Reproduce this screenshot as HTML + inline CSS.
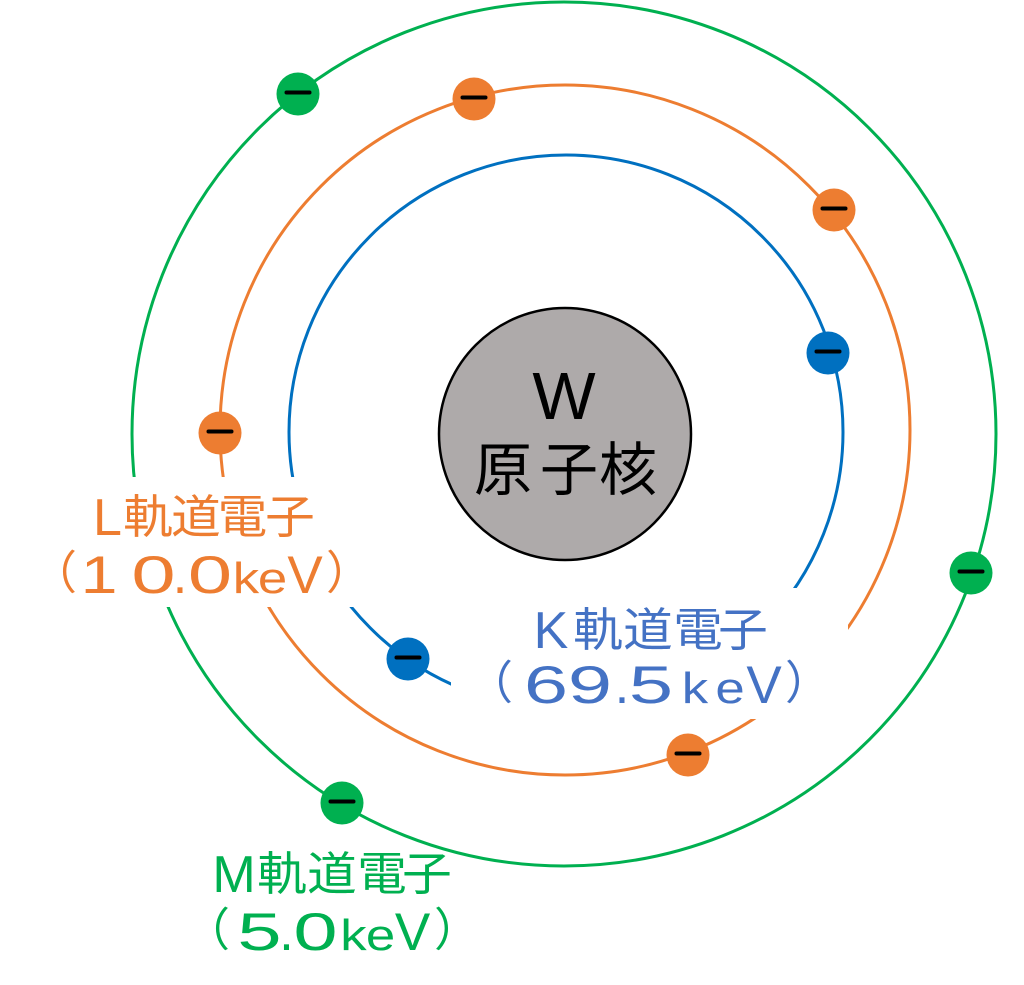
<!DOCTYPE html>
<html>
<head>
<meta charset="utf-8">
<style>
  html, body { margin:0; padding:0; background:#fff; }
  svg { display:block; }
  .lat { font-family:"Liberation Sans", sans-serif; }
  .cjk { font-family:"Liberation Sans","Noto Sans CJK JP", sans-serif; }
</style>
</head>
<body>
<svg width="1024" height="985" viewBox="0 0 1024 985" xmlns="http://www.w3.org/2000/svg">
  <rect width="1024" height="985" fill="#fff"/>

  <!-- orbits -->
  <circle cx="564" cy="434" r="432" fill="none" stroke="#00B050" stroke-width="3"/>
  <circle cx="565" cy="430" r="345" fill="none" stroke="#ED7D31" stroke-width="3"/>
  <circle cx="566" cy="432" r="277" fill="none" stroke="#0070C0" stroke-width="3"/>

  <!-- label backgrounds cutting the orbits -->
  <rect x="30" y="477" width="342" height="130" fill="#fff"/>
  <rect x="451" y="588" width="397" height="131" fill="#fff"/>

  <!-- nucleus -->
  <circle cx="565" cy="434" r="126" fill="#AEAAAA" stroke="#000" stroke-width="2.5"/>
  <text class="lat" x="564" y="419" font-size="67" text-anchor="middle" fill="#000">W</text>
  <g class="cjk" font-size="58" fill="#000" text-anchor="middle">
    <text x="503" y="490">原</text>
    <text x="569" y="490">子</text>
    <text x="628" y="490">核</text>
  </g>

  <!-- electrons -->
  <g>
    <circle cx="298" cy="94" r="21.5" fill="#00B050"/>
    <circle cx="971" cy="573" r="21.5" fill="#00B050"/>
    <circle cx="342" cy="803" r="21.5" fill="#00B050"/>
    <circle cx="474" cy="99" r="21.5" fill="#ED7D31"/>
    <circle cx="834" cy="210" r="21.5" fill="#ED7D31"/>
    <circle cx="220" cy="433" r="21.5" fill="#ED7D31"/>
    <circle cx="688" cy="755" r="21.5" fill="#ED7D31"/>
    <circle cx="828" cy="353" r="21.5" fill="#0070C0"/>
    <circle cx="408" cy="659" r="21.5" fill="#0070C0"/>
  </g>
  <g fill="#000">
    <rect x="284.5" y="90.5" width="27" height="4" rx="2"/>
    <rect x="957.5" y="569.5" width="27" height="4" rx="2"/>
    <rect x="328.5" y="799.5" width="27" height="4" rx="2"/>
    <rect x="460.5" y="95.5" width="27" height="4" rx="2"/>
    <rect x="820.5" y="206.5" width="27" height="4" rx="2"/>
    <rect x="206.5" y="429.5" width="27" height="4" rx="2"/>
    <rect x="674.5" y="751.5" width="27" height="4" rx="2"/>
    <rect x="814.5" y="349.5" width="27" height="4" rx="2"/>
    <rect x="394.5" y="655.5" width="27" height="4" rx="2"/>
  </g>

  <!-- L label -->
  <g fill="#ED7D31" text-anchor="middle">
    <text class="lat" x="107.5" y="535" font-size="52">L</text>
    <g class="cjk" font-size="46">
      <text transform="translate(148,533) scale(1.08,1)">軌</text>
      <text transform="translate(196,533) scale(1.08,1)">道</text>
      <text transform="translate(242.5,533) scale(1.08,1)">電</text>
      <text transform="translate(290,533) scale(1.08,1)">子</text>
    </g>
    <text class="cjk" x="54" y="589" font-size="46">（</text>
    <g class="lat" font-size="53">
      <text transform="translate(99,593) scale(1.25,1)">1</text>
      <text transform="translate(153.5,593) scale(1.5,1)">0</text>
      <text x="180" y="593">.</text>
      <text transform="translate(210,593) scale(1.5,1)">0</text>
      <text transform="translate(246,593) scale(1.2,1)" font-size="44">k</text>
      <text transform="translate(272.5,593) scale(1.2,1)" font-size="44">e</text>
      <text x="305" y="593">V</text>
    </g>
    <text class="cjk" x="349" y="589" font-size="46">）</text>
  </g>

  <!-- K label -->
  <g fill="#4472C4" text-anchor="middle">
    <text class="lat" x="551" y="648" font-size="52">K</text>
    <g class="cjk" font-size="46">
      <text transform="translate(598,646) scale(1.08,1)">軌</text>
      <text transform="translate(648,646) scale(1.08,1)">道</text>
      <text transform="translate(698,646) scale(1.08,1)">電</text>
      <text transform="translate(743,646) scale(1.08,1)">子</text>
    </g>
    <text class="cjk" x="490" y="699" font-size="46">（</text>
    <g class="lat" font-size="53">
      <text transform="translate(546,703) scale(1.5,1)">6</text>
      <text transform="translate(590,703) scale(1.5,1)">9</text>
      <text x="622" y="703">.</text>
      <text transform="translate(651,703) scale(1.5,1)">5</text>
      <text transform="translate(695,703) scale(1.2,1)" font-size="44">k</text>
      <text transform="translate(730,703) scale(1.2,1)" font-size="44">e</text>
      <text x="764" y="703">V</text>
    </g>
    <text class="cjk" x="808" y="699" font-size="46">）</text>
  </g>

  <!-- M label -->
  <g fill="#00B050" text-anchor="middle">
    <text class="lat" x="234" y="892" font-size="52">M</text>
    <g class="cjk" font-size="46">
      <text transform="translate(282,890) scale(1.08,1)">軌</text>
      <text transform="translate(332,890) scale(1.08,1)">道</text>
      <text transform="translate(382,890) scale(1.08,1)">電</text>
      <text transform="translate(427,890) scale(1.08,1)">子</text>
    </g>
    <text class="cjk" x="207" y="946" font-size="46">（</text>
    <g class="lat" font-size="53">
      <text transform="translate(259.5,950) scale(1.5,1)">5</text>
      <text x="286.5" y="950">.</text>
      <text transform="translate(315.5,950) scale(1.5,1)">0</text>
      <text transform="translate(353.5,950) scale(1.2,1)" font-size="44">k</text>
      <text transform="translate(380.5,950) scale(1.2,1)" font-size="44">e</text>
      <text x="412.5" y="950">V</text>
    </g>
    <text class="cjk" x="457" y="946" font-size="46">）</text>
  </g>
</svg>
</body>
</html>
